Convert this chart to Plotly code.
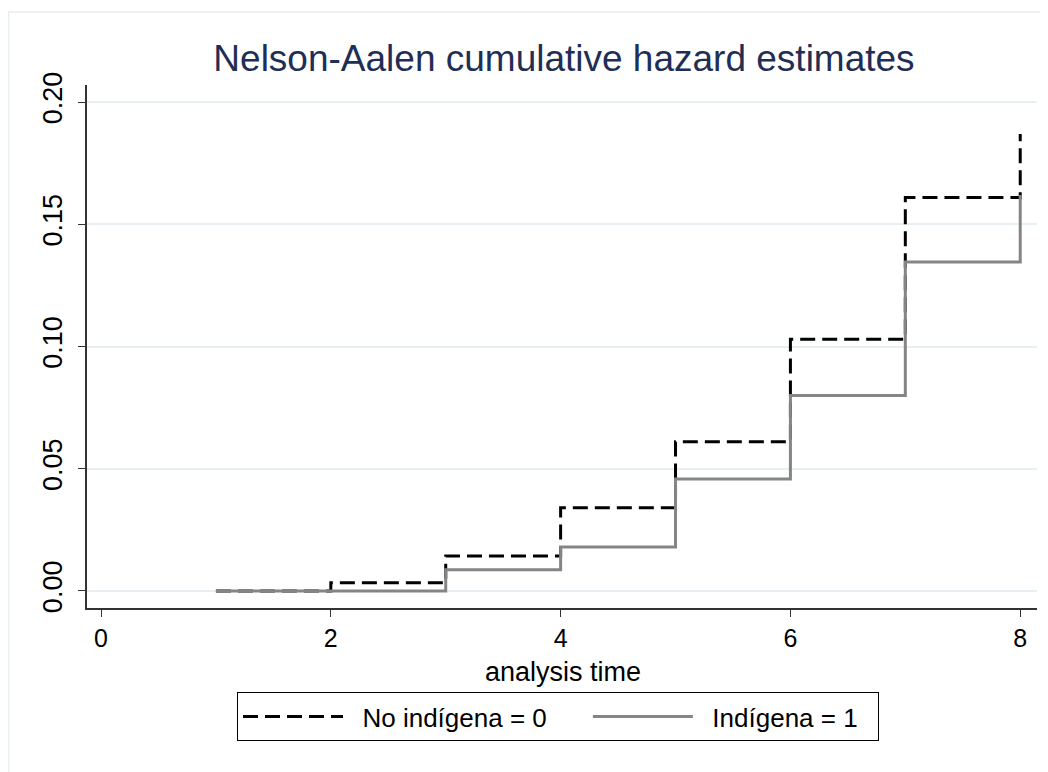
import plotly.graph_objects as go

# analysis time points where the estimates step
time = [1, 2, 3, 4, 5, 6, 7, 8]

# Nelson-Aalen cumulative hazard
no_indigena = [0.0, 0.0033, 0.0143, 0.034, 0.061, 0.103, 0.161, 0.187]
indigena = [0.0, 0.0, 0.0086, 0.018, 0.0458, 0.080, 0.1346, 0.162]

x_ticks = [0, 2, 4, 6, 8]
y_ticks = [0.00, 0.05, 0.10, 0.15, 0.20]

FONT = "Arial, 'Liberation Sans', sans-serif"
TITLE_COLOR = "#1F2E55"
GRID = "#E7EFF2"
NBSP = "\u00a0"

fig = go.Figure()
fig.add_trace(
    go.Scatter(
        x=time,
        y=no_indigena,
        mode="lines",
        # non-breaking spaces pad the legend entry like Stata's wide key gap
        name=NBSP * 2 + "No indígena = 0" + NBSP * 5,
        line={"color": "#000000", "width": 3, "shape": "hv", "dash": "15px,7px"},
    )
)
fig.add_trace(
    go.Scatter(
        x=time,
        y=indigena,
        mode="lines",
        name=NBSP * 2 + "Indígena = 1" + NBSP * 2,
        line={"color": "#858585", "width": 3, "shape": "hv"},
    )
)

# the page adds an 8px body margin, so the figure is kept 8px smaller
fig.update_layout(
    width=1040,
    height=764,
    paper_bgcolor="white",
    plot_bgcolor="white",
    font={"family": FONT, "color": "#000000", "size": 27},
    margin={"l": 79, "r": 11, "t": 77, "b": 164},
    title={
        "text": "Nelson-Aalen cumulative hazard estimates",
        "font": {"size": 37, "color": TITLE_COLOR},
        "xref": "container",
        "x": 0.5346,
        "xanchor": "center",
        "yref": "container",
        "y": 0.934,
        "yanchor": "middle",
    },
    showlegend=True,
    legend={
        "orientation": "h",
        "xref": "container",
        "x": 0.2202,
        "xanchor": "left",
        "yref": "container",
        "y": 0.1045,
        "yanchor": "top",
        "bordercolor": "#000000",
        "borderwidth": 1,
        "font": {"size": 26},
        "itemwidth": 100,
        "traceorder": "normal",
    },
    annotations=[
        {
            "text": "analysis time",
            "xref": "paper",
            "yref": "paper",
            "x": 0.501,
            "y": -0.1215,
            "xanchor": "center",
            "yanchor": "middle",
            "showarrow": False,
            "font": {"size": 27},
        }
    ],
    shapes=[
        {
            "type": "rect",
            "xref": "paper",
            "yref": "paper",
            "x0": -0.0826,
            "x1": 1.03,
            "y0": -0.33,
            "y1": 1.1396,
            "line": {"color": "#E6EEF0", "width": 1.5},
            "fillcolor": "rgba(0,0,0,0)",
            "layer": "below",
        }
    ],
)

fig.update_xaxes(
    range=[-0.122, 8.146],
    tickvals=x_ticks,
    ticks="outside",
    ticklen=7,
    tickcolor="#333333",
    showline=True,
    linecolor="#333333",
    linewidth=1.5,
    showgrid=False,
    zeroline=False,
    tickfont={"size": 25},
)
fig.update_yaxes(
    range=[-0.007, 0.207],
    tickvals=y_ticks,
    tickformat=".2f",
    tickangle=-90,
    ticks="outside",
    ticklen=7,
    ticklabelstandoff=5,
    tickcolor="#333333",
    showline=True,
    linecolor="#333333",
    linewidth=1.5,
    showgrid=True,
    gridcolor=GRID,
    gridwidth=1.5,
    zeroline=False,
    tickfont={"size": 27},
)

fig.write_html("out.html")
